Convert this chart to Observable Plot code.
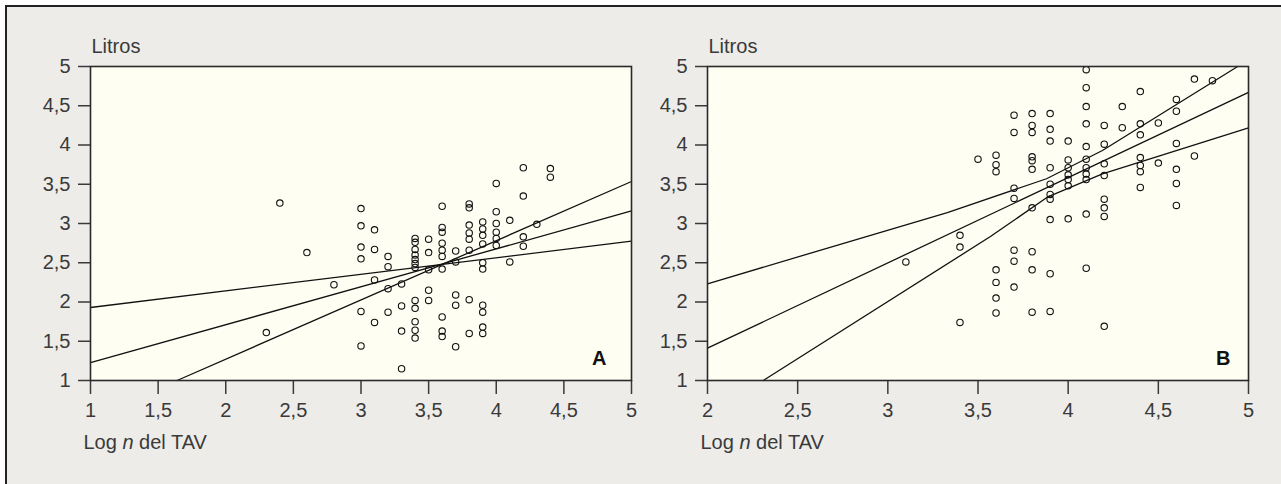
<!DOCTYPE html>
<html>
<head>
<meta charset="utf-8">
<script src="https://cdn.jsdelivr.net/npm/d3@7"></script>
<script src="https://cdn.jsdelivr.net/npm/@observablehq/plot@0.6"></script>
<style>
  html, body { margin: 0; padding: 0; background: #ffffff; }
  body { width: 1281px; height: 484px; position: relative; overflow: hidden; }
  #box { position: absolute; left: 5px; top: 5px; width: 1276px; height: 479px;
         background: #edece9; border-top: 2px solid #222; border-left: 2px solid #222; box-sizing: border-box; }
  .panel { position: absolute; top: 0; }
  .panel svg { overflow: visible; }
</style>
</head>
<body>
<div id="box"></div>
<div id="pa" class="panel" style="left:0px"></div>
<div id="pb" class="panel" style="left:620px"></div>
<script>
// ---------- Data ----------
const yTicks = [1, 1.5, 2, 2.5, 3, 3.5, 4, 4.5, 5];
const aXTicks = [1, 1.5, 2, 2.5, 3, 3.5, 4, 4.5, 5];
const bXTicks = [2, 2.5, 3, 3.5, 4, 4.5, 5];

// Panel A points
const aX = [2.3, 2.4, 2.6, 2.8,
  3, 3, 3, 3, 3, 3,
  3.1, 3.1, 3.1, 3.1,
  3.2, 3.2, 3.2, 3.2,
  3.3, 3.3, 3.3, 3.3,
  3.4, 3.4, 3.4, 3.4, 3.4, 3.4, 3.4, 3.4, 3.4, 3.4, 3.4, 3.4,
  3.5, 3.5, 3.5, 3.5, 3.5,
  3.6, 3.6, 3.6, 3.6, 3.6, 3.6, 3.6, 3.6, 3.6, 3.6,
  3.7, 3.7, 3.7, 3.7, 3.7,
  3.8, 3.8, 3.8, 3.8, 3.8, 3.8, 3.8, 3.8,
  3.9, 3.9, 3.9, 3.9, 3.9, 3.9, 3.9, 3.9, 3.9, 3.9,
  4, 4, 4, 4, 4, 4,
  4.1, 4.1,
  4.2, 4.2, 4.2, 4.2,
  4.3,
  4.4, 4.4];
const aY = [1.61, 3.26, 2.63, 2.22,
  3.19, 2.97, 2.70, 2.55, 1.88, 1.44,
  2.92, 2.67, 2.28, 1.74,
  2.58, 2.45, 2.17, 1.87,
  2.23, 1.95, 1.63, 1.15,
  2.81, 2.76, 2.67, 2.60, 2.54, 2.49, 2.44, 2.02, 1.92, 1.75, 1.64, 1.54,
  2.80, 2.63, 2.41, 2.15, 2.02,
  3.22, 2.95, 2.89, 2.75, 2.66, 2.58, 2.42, 1.81, 1.63, 1.56,
  2.65, 2.51, 2.09, 1.96, 1.43,
  3.25, 3.20, 2.98, 2.88, 2.80, 2.66, 2.03, 1.60,
  3.02, 2.93, 2.85, 2.74, 2.50, 2.42, 1.96, 1.87, 1.68, 1.60,
  3.51, 3.15, 3.00, 2.89, 2.81, 2.72,
  3.04, 2.51,
  3.71, 3.35, 2.83, 2.71,
  2.99,
  3.70, 3.59];

// Panel A lines (regression and confidence limits)
const aLineUpperX = [1, 5],    aLineUpperY = [1.93, 2.775];
const aLineMidX   = [1, 5],    aLineMidY   = [1.228, 3.16];
const aLineLowerX = [1.64, 5], aLineLowerY = [1, 3.535];

// Panel B points
const bX = [3.1,
  3.4, 3.4, 3.4,
  3.5,
  3.6, 3.6, 3.6, 3.6, 3.6, 3.6, 3.6,
  3.7, 3.7, 3.7, 3.7, 3.7, 3.7, 3.7,
  3.8, 3.8, 3.8, 3.8, 3.8, 3.8, 3.8, 3.8, 3.8, 3.8,
  3.9, 3.9, 3.9, 3.9, 3.9, 3.9, 3.9, 3.9, 3.9, 3.9,
  4, 4, 4, 4, 4, 4, 4,
  4.1, 4.1, 4.1, 4.1, 4.1, 4.1, 4.1, 4.1, 4.1, 4.1, 4.1,
  4.2, 4.2, 4.2, 4.2, 4.2, 4.2, 4.2, 4.2,
  4.3, 4.3,
  4.4, 4.4, 4.4, 4.4, 4.4, 4.4, 4.4,
  4.5, 4.5,
  4.6, 4.6, 4.6, 4.6, 4.6, 4.6,
  4.7, 4.7,
  4.8];
const bY = [2.51,
  2.85, 2.70, 1.74,
  3.82,
  3.87, 3.75, 3.66, 2.41, 2.25, 2.05, 1.86,
  4.38, 4.16, 3.45, 3.32, 2.66, 2.52, 2.19,
  4.40, 4.25, 4.16, 3.85, 3.80, 3.69, 3.20, 2.64, 2.41, 1.87,
  4.40, 4.20, 4.05, 3.71, 3.50, 3.37, 3.31, 3.05, 2.36, 1.88,
  4.05, 3.81, 3.71, 3.62, 3.56, 3.48, 3.06,
  4.96, 4.73, 4.49, 4.27, 3.98, 3.82, 3.71, 3.63, 3.56, 3.12, 2.43,
  4.25, 4.01, 3.76, 3.61, 3.31, 3.20, 3.09, 1.69,
  4.49, 4.22,
  4.68, 4.27, 4.13, 3.84, 3.74, 3.66, 3.46,
  4.28, 3.77,
  4.58, 4.43, 4.02, 3.69, 3.51, 3.23,
  4.84, 3.86,
  4.82];

// Panel B lines
const bLineUpperX = [2, 3.33, 3.88, 4.19, 4.94];
const bLineUpperY = [2.232, 3.14, 3.57, 3.93, 5];
const bLineMidX   = [2, 5];
const bLineMidY   = [1.412, 4.67];
const bLineLowerX = [2.309, 3.569, 3.884, 4.19, 5];
const bLineLowerY = [1, 2.834, 3.335, 3.633, 4.219];

// ---------- Helpers ----------
const zip = (xs, ys) => xs.map((x, i) => ({x, y: ys[i]}));
const fmt = d => String(d).replace(".", ",");
const FONT = "'Liberation Sans', Arial, Helvetica, sans-serif";
const INK = "#3a3a3a";
const CREAM = "#fefef3";
const FS = "20px";

function panel({width, marginLeft, marginRight, xDomain, xTicks, pts, lines, letter, letterDx}) {
  const svg = Plot.plot({
    width, height: 484,
    marginLeft, marginRight, marginTop: 66, marginBottom: 104,
    x: {domain: xDomain},
    y: {domain: [1, 5]},
    style: {fontFamily: FONT, fontSize: FS, color: INK, background: "transparent", overflow: "visible"},
    marks: [
      Plot.frame({fill: CREAM, stroke: null}),
      Plot.axisY({ticks: yTicks, tickSize: 12, tickPadding: 8, tickFormat: fmt, label: null, strokeWidth: 1.5, fontSize: FS}),
      Plot.axisX({ticks: xTicks, tickSize: 14, tickPadding: 8, tickFormat: fmt, label: null, strokeWidth: 1.5, fontSize: FS}),
      ...lines.map(l => Plot.line(l, {x: "x", y: "y", stroke: "#111", strokeWidth: 1.3})),
      Plot.dot(pts, {x: "x", y: "y", r: 3.2, stroke: "#111", strokeWidth: 1.1, fill: "none"}),
      Plot.frame({stroke: "#2a2a2a", strokeWidth: 1.6}),
      Plot.text(["Litros"], {text: d => d, frameAnchor: "top-left", textAnchor: "start", lineAnchor: "middle", dx: 1, dy: -20, fontSize: FS}),
      Plot.text(["Log n del TAV"], {text: d => d, frameAnchor: "bottom-left", textAnchor: "start", lineAnchor: "middle", dx: -7, dy: 62, fontSize: FS}),
      Plot.text([letter], {text: d => d, frameAnchor: "bottom-right", textAnchor: "end", lineAnchor: "middle", dx: letterDx, dy: -22, fontWeight: "bold", fill: "#111", fontSize: FS})
    ]
  });
  d3.select(svg).selectAll("text").filter(function() { return this.textContent === "Log n del TAV"; })
    .each(function() {
      const t = d3.select(this);
      t.text(null).style("white-space", "pre");
      t.append("tspan").text("Log ");
      t.append("tspan").attr("font-style", "italic").text("n");
      t.append("tspan").text(" del TAV");
    });
  return svg;
}

document.getElementById("pa").appendChild(panel({
  width: 660, marginLeft: 90, marginRight: 29, xDomain: [1, 5], xTicks: aXTicks,
  pts: zip(aX, aY),
  lines: [zip(aLineUpperX, aLineUpperY), zip(aLineMidX, aLineMidY), zip(aLineLowerX, aLineLowerY)],
  letter: "A", letterDx: -25
}));
document.getElementById("pb").appendChild(panel({
  width: 661, marginLeft: 87, marginRight: 33, xDomain: [2, 5], xTicks: bXTicks,
  pts: zip(bX, bY),
  lines: [zip(bLineUpperX, bLineUpperY), zip(bLineMidX, bLineMidY), zip(bLineLowerX, bLineLowerY)],
  letter: "B", letterDx: -18
}));
</script>
</body>
</html>
